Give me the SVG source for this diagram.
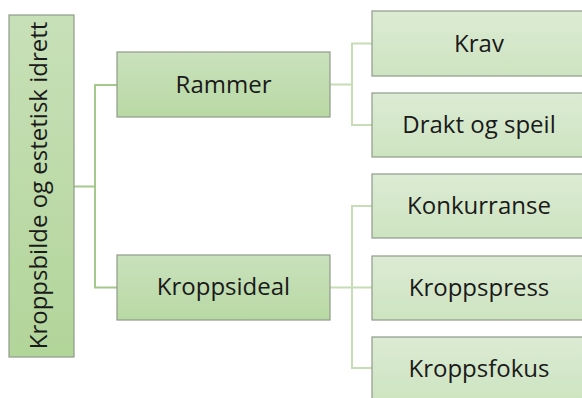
<svg xmlns="http://www.w3.org/2000/svg" width="582" height="398" viewBox="0 0 582 398">
<defs>
<linearGradient id="gRoot" x1="0" y1="0" x2="0" y2="1"><stop offset="0" stop-color="#c8e0b8"/><stop offset="1" stop-color="#b2d59a"/></linearGradient>
<linearGradient id="gMid" x1="0" y1="0" x2="0" y2="1"><stop offset="0" stop-color="#cae1bd"/><stop offset="1" stop-color="#b8d9a3"/></linearGradient>
<linearGradient id="gLeaf" x1="0" y1="0" x2="0" y2="1"><stop offset="0" stop-color="#dcebd4"/><stop offset="1" stop-color="#cde4c0"/></linearGradient>
<style>
.box{stroke:#8f9a8a;stroke-width:1.2}
.root{fill:url(#gRoot)}
.mid{fill:url(#gMid)}
.leaf{fill:url(#gLeaf)}
text{font-family:"Open Sans","Noto Sans",sans-serif;font-size:24px;fill:#1a1a1a;text-anchor:middle}
.c1{fill:none;stroke:#a5c98c;stroke-width:2}
.c2{fill:none;stroke:#c6ddb6;stroke-width:2}
</style>
</defs>
<rect width="582" height="398" fill="#ffffff"/>
<g id="connectors">
<path class="c1" d="M74 186.5H95M95 85H117M95 287.5H117M95 84V288.5"/>
<path class="c2" d="M330 84.5H352M352 43.5H372M352 125H372M352 42.5V126"/>
<path class="c2" d="M330 287.5H372M352 206H372M352 368H372M352 205V369"/>
</g>
<g id="root">
<rect class="box root" x="9" y="15" width="65" height="342"/>
<text transform="translate(47,185.5) rotate(-90)">Kroppsbilde og estetisk idrett</text>
</g>
<g id="rammer">
<rect class="box mid" x="117" y="52" width="213" height="65"/>
<text x="223.5" y="93">Rammer</text>
</g>
<g id="kroppsideal">
<rect class="box mid" x="117" y="255" width="213" height="65"/>
<text x="223.5" y="295">Kroppsideal</text>
</g>
<g id="krav">
<rect class="box leaf" x="372" y="11" width="214" height="65"/>
<text x="479" y="51.5">Krav</text>
</g>
<g id="drakt">
<rect class="box leaf" x="372" y="93" width="214" height="64"/>
<text x="479" y="133">Drakt og speil</text>
</g>
<g id="konkurranse">
<rect class="box leaf" x="372" y="174" width="214" height="64"/>
<text x="479" y="214">Konkurranse</text>
</g>
<g id="kroppspress">
<rect class="box leaf" x="372" y="256" width="214" height="64"/>
<text x="479" y="296">Kroppspress</text>
</g>
<g id="kroppsfokus">
<rect class="box leaf" x="372" y="337" width="214" height="64"/>
<text x="479" y="377">Kroppsfokus</text>
</g>
</svg>
